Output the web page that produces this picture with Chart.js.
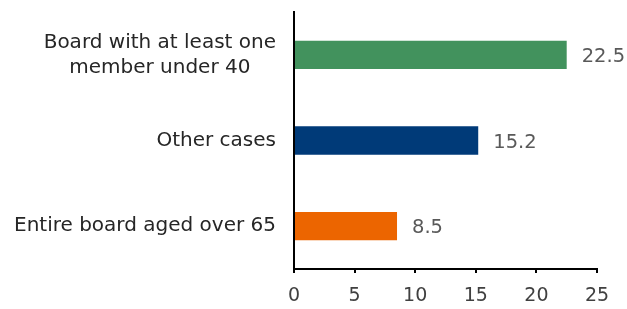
<!DOCTYPE html>
<html><head><meta charset="utf-8">
<script src="https://cdn.jsdelivr.net/npm/chart.js@4"></script>
<style>html,body{margin:0;padding:0;background:#fff}#wrap{width:627px;height:309px}</style>
</head><body><div id="wrap"><canvas id="c" width="627" height="309"></canvas></div>
<script>
const categories = [["Board with at least one","member under 40"], "Other cases", "Entire board aged over 65"];
const values = [22.5, 15.2, 8.5];
const barColors = ["#42925D", "#003A78", "#EC6500"];
const xTicks = [0, 5, 10, 15, 20, 25];

const FONT = "'DejaVu Sans', sans-serif";
const CAT_COLOR = '#262626';
const CAT_FONT_SIZE = 20;
const CAT_LINE_H = 25;
const CAT_PAD = 18;

const labelPlugin = {
  id: 'valueLabels',
  afterDraw(chart) {
    const ctx = chart.ctx;
    const meta = chart.getDatasetMeta(0);
    ctx.save();
    ctx.font = "19.5px " + FONT;
    ctx.fillStyle = "#595959";
    ctx.textAlign = "left";
    ctx.textBaseline = "middle";
    meta.data.forEach((bar, i) => {
      ctx.fillText(values[i].toFixed(1), bar.x + 15, bar.y + 2);
    });
    // multi-line category labels: lines centered on each other, block right-aligned
    const yScale = chart.scales.y;
    ctx.font = CAT_FONT_SIZE + "px " + FONT;
    ctx.fillStyle = CAT_COLOR;
    ctx.textAlign = "center";
    categories.forEach((lab, i) => {
      if (!Array.isArray(lab)) return;
      const widest = Math.max(...lab.map(s => ctx.measureText(s).width));
      const cx = yScale.right - CAT_PAD - widest / 2;
      const cy = yScale.getPixelForTick(i);
      const top = cy - (lab.length - 1) * CAT_LINE_H / 2;
      lab.forEach((s, k) => ctx.fillText(s, cx, top + k * CAT_LINE_H));
    });
    ctx.restore();
  }
};

new Chart(document.getElementById('c'), {
  type: 'bar',
  data: {
    labels: categories,
    datasets: [{ data: values, backgroundColor: barColors, barPercentage: 0.33, categoryPercentage: 1.0 }]
  },
  options: {
    indexAxis: 'y',
    responsive: false,
    animation: false,
    layout: { padding: { top: 12, right: 30, left: 0, bottom: 0 } },
    plugins: { legend: { display: false }, tooltip: { enabled: false } },
    scales: {
      x: {
        min: 0, max: 25,
        afterBuildTicks(scale) { scale.ticks = xTicks.map(v => ({ value: v })); },
        afterFit(scale) { scale.height = 40; scale.paddingLeft = 0; scale.paddingRight = 0; },
        grid: { drawOnChartArea: false, drawTicks: true, tickLength: 4, color: '#000', lineWidth: 2 },
        border: { display: true, color: '#000', width: 2 },
        ticks: { color: '#404040', font: { family: FONT, size: 19 }, padding: 12, maxRotation: 0 }
      },
      y: {
        afterFit(scale) { scale.width = 294; scale.paddingTop = 0; scale.paddingBottom = 0; },
        grid: { drawOnChartArea: false, drawTicks: false },
        border: { display: true, color: '#000', width: 2 },
        ticks: {
          color: (c) => Array.isArray(categories[c.index]) ? 'rgba(0,0,0,0)' : CAT_COLOR,
          font: { family: FONT, size: CAT_FONT_SIZE, lineHeight: CAT_LINE_H / CAT_FONT_SIZE },
          padding: CAT_PAD
        }
      }
    }
  },
  plugins: [labelPlugin]
});
</script></body></html>
